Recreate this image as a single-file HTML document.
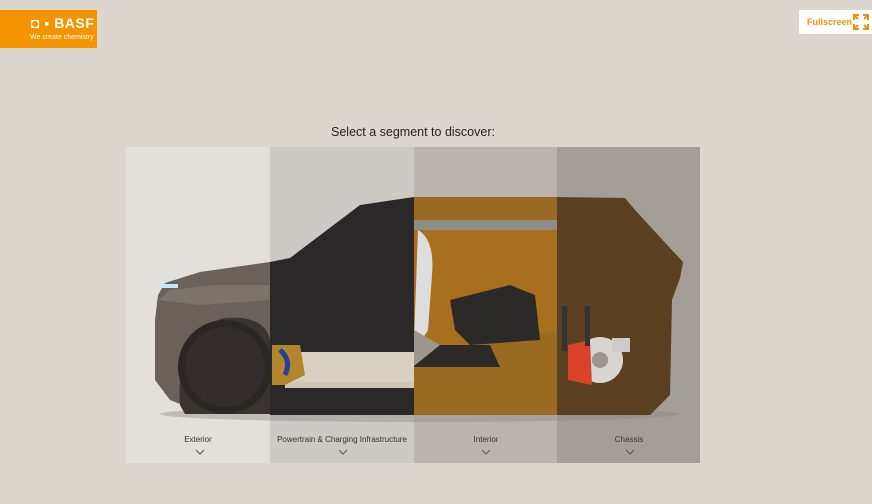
<!DOCTYPE html>
<html><head><meta charset="utf-8"><style>
html,body{margin:0;padding:0;width:872px;height:504px;background:#ddd6cf;overflow:hidden;font-family:"Liberation Sans",sans-serif}
.logo{position:absolute;left:0;top:10px;width:97px;height:38px;background:#f39500;color:#fff}
.logo .b{position:absolute;left:31px;top:5px;font-weight:bold;font-size:14px;letter-spacing:0.5px}
.logo .s{position:absolute;left:30px;top:24px;font-size:7px}
.fs{position:absolute;left:799px;top:10px;width:73px;height:24px;background:#fff;color:#e8950e;font-size:9px;font-weight:bold}
.title{position:absolute;left:0;width:826px;top:125px;text-align:center;font-size:12.5px;color:#222}
.lab{position:absolute;top:435px;width:144px;text-align:center;font-size:8px;color:#333}
</style></head><body>
<div class="logo"><div class="b">◘ ▪ BASF</div><div class="s">We create chemistry</div></div>
<div class="fs"><span style="position:absolute;left:8px;top:7px">Fullscreen</span>
<svg style="position:absolute;left:54px;top:4px" width="16" height="16" stroke="#e8950e" stroke-width="2" fill="none"><path d="M1 6V1h5M10 1h5v5M15 10v5h-5M6 15H1v-5M1 1l4 4M15 1l-4 4M15 15l-4-4M1 15l4-4"/></svg></div>
<div class="title">Select a segment to discover:</div>
<svg style="position:absolute;left:0;top:0" width="872" height="504">
<rect x="126" y="147" width="144" height="316" fill="#e3dfda"/>
<rect x="270" y="147" width="144" height="316" fill="#cdc9c4"/>
<rect x="414" y="147" width="143" height="316" fill="#b9b4ae"/>
<rect x="557" y="147" width="143" height="316" fill="#a39e98"/>
<ellipse cx="420" cy="414" rx="260" ry="8" fill="#8a847d" opacity="0.4"/>
<path d="M270 262 L200 272 L165 283 L158 295 L155 320 L155 380 L170 400 L200 412 L270 414 Z" fill="#6a625a"/>
<path d="M158 300 L170 290 L215 285 L270 285 L270 300 L200 305 Z" fill="#7c746b"/>
<path d="M180 405 Q175 330 225 318 Q265 315 270 340 L270 414 L185 414 Z" fill="#3a3430"/>
<circle cx="225" cy="367" r="47" fill="#2b2725"/>
<circle cx="225" cy="367" r="40" fill="#332e2b"/>
<rect x="160" y="284" width="18" height="4" fill="#bfe6ff"/>
<path d="M270 262 L290 258 L360 205 L414 197 L414 415 L270 415 Z" fill="#2a2828"/>
<rect x="285" y="352" width="129" height="30" fill="#d8d0c0"/>
<rect x="285" y="382" width="129" height="6" fill="#cfc6b5"/>
<path d="M272 345 L300 345 L305 375 L285 385 L272 385 Z" fill="#b2862a"/>
<path d="M280 350 Q292 360 285 375" stroke="#2a3d9a" stroke-width="5" fill="none"/>
<path d="M414 197 L557 197 L557 415 L414 415 Z" fill="#9b6a22"/>
<path d="M414 220 L557 220 L557 230 L414 230 Z" fill="#8e8c88"/>
<path d="M414 230 L557 230 L557 330 L520 340 L470 345 L414 345 Z" fill="#a86f1e"/>
<path d="M450 300 L510 285 L535 295 L540 340 L470 345 L455 330 Z" fill="#2c2a28"/>
<path d="M414 345 L490 345 L500 367 L414 367 Z" fill="#2c2a28"/>
<path d="M418 230 Q435 240 432 275 L428 330 Q420 345 414 340 Z" fill="#ddd"/>
<path d="M414 330 L414 366 L440 345 Z" fill="#9c968f"/>
<path d="M557 197 L625 198 L635 210 L670 248 L683 262 L680 278 L672 300 L670 395 L650 415 L557 415 Z" fill="#5a4020"/>
<circle cx="600" cy="360" r="23" fill="#d9d6d2"/>
<circle cx="600" cy="360" r="8" fill="#9a9590"/>
<path d="M568 345 L590 340 L592 385 L568 380 Z" fill="#d9432a"/>
<rect x="562" y="306" width="5" height="45" fill="#333"/>
<rect x="585" y="306" width="5" height="40" fill="#333"/>
<rect x="612" y="338" width="18" height="14" fill="#ccc"/>
<g stroke="#555" stroke-width="1" fill="none">
<path d="M196 450l4 4 4-4M339 450l4 4 4-4M482 450l4 4 4-4M626 450l4 4 4-4"/></g>
</svg>
<div class="lab" style="left:126px">Exterior</div>
<div class="lab" style="left:270px">Powertrain &amp; Charging Infrastructure</div>
<div class="lab" style="left:414px">Interior</div>
<div class="lab" style="left:557px">Chassis</div>
</body></html>
